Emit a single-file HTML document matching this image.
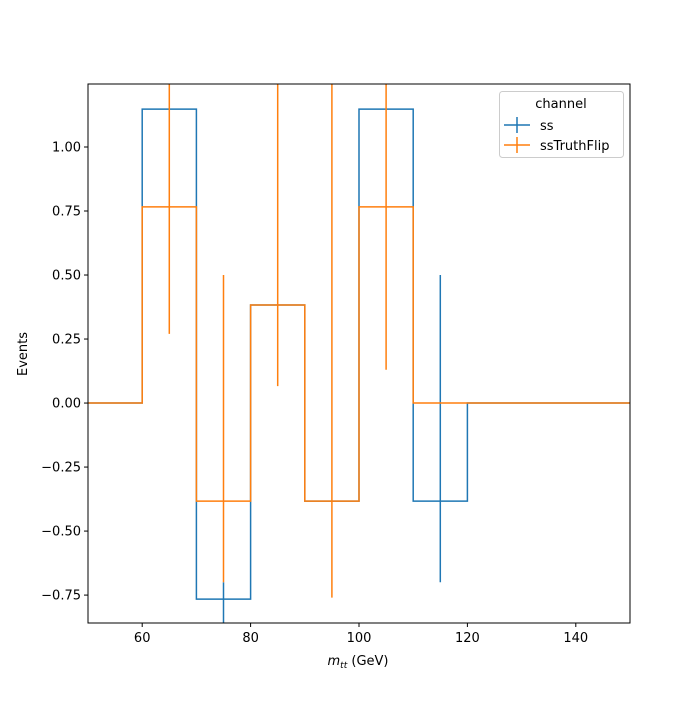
<!DOCTYPE html>
<html><head><meta charset="utf-8"><style>
body{margin:0;background:#fff;font-family:"Liberation Sans","DejaVu Sans",sans-serif}
text{font-family:"DejaVu Sans","Liberation Sans",sans-serif;font-size:13px;fill:#000}
</style></head><body>
<svg id="chart" width="700" height="700" xmlns="http://www.w3.org/2000/svg">
<defs><clipPath id="clip"><rect x="88" y="84" width="542" height="539"/></clipPath></defs>
<rect x="0" y="0" width="700" height="700" fill="#fff"/>
<g id="marks" clip-path="url(#clip)"></g>
<g id="axes"></g>
</svg>
<script>
const binEdges=[50,60,70,80,90,100,110,120,130,140,150];
const ssValues=[0,1.148,-0.766,0.383,-0.383,1.148,-0.383,0,0,0];
const flipValues=[0,0.766,-0.383,0.383,-0.383,0.766,0,0,0,0];
const ssErrCenters=[75,115];
const ssErrLow=[-1.0,-0.70];
const ssErrHigh=[-0.70,0.50];
const flipErrCenters=[65,75,85,95,105];
const flipErrLow=[0.27,-0.70,0.066,-0.76,0.13];
const flipErrHigh=[1.4,0.50,1.4,1.4,1.4];
const xTicks=[60,80,100,120,140];
const yTicks=[-0.75,-0.5,-0.25,0,0.25,0.5,0.75,1.0];
const yTickLabels=["−0.75","−0.50","−0.25","0.00","0.25","0.50","0.75","1.00"];
const X0=88,X1=630,Y0=84,Y1=623,xmin=50,xmax=150,ymin=-0.859,ymax=1.246;
const sx=v=>X0+(v-xmin)/(xmax-xmin)*(X1-X0);
const sy=v=>Y1-(v-ymin)/(ymax-ymin)*(Y1-Y0);
const NS="http://www.w3.org/2000/svg";
const marks=document.getElementById('marks'),axes=document.getElementById('axes');
function mk(tag,attrs,parent){const e=document.createElementNS(NS,tag);for(const k in attrs)e.setAttribute(k,attrs[k]);parent.appendChild(e);return e;}
function steps(vals,name,color){let d="";for(let i=0;i<vals.length;i++){d+=(i?"L":"M")+sx(binEdges[i])+","+sy(vals[i])+"L"+sx(binEdges[i+1])+","+sy(vals[i]);}
const p=mk('path',{d:d,fill:'none',stroke:color,'stroke-width':1.5},marks);

}
function errs(c,lo,hi,name,color){for(let i=0;i<c.length;i++){const l=mk('line',{x1:sx(c[i]),x2:sx(c[i]),y1:sy(lo[i]),y2:sy(hi[i]),stroke:color,'stroke-width':1.5},marks);

}}
steps(ssValues,'ss-step','#1f77b4');
errs(ssErrCenters,ssErrLow,ssErrHigh,'ss-error-bar','#1f77b4');
steps(flipValues,'sstruthflip-step','#ff7f0e');
errs(flipErrCenters,flipErrLow,flipErrHigh,'sstruthflip-error-bar','#ff7f0e');
const frame=mk('rect',{x:X0,y:Y0,width:X1-X0,height:Y1-Y0,fill:'none',stroke:'#000','stroke-width':1},axes);


xTicks.forEach(v=>{mk('line',{x1:sx(v),x2:sx(v),y1:Y1,y2:Y1+4,stroke:'#000'},axes);
const t=mk('text',{x:sx(v),y:Y1+19,'text-anchor':'middle'},axes);t.textContent=v;

});
yTicks.forEach((v,i)=>{mk('line',{x1:X0-4,x2:X0,y1:sy(v),y2:sy(v),stroke:'#000'},axes);
const t=mk('text',{x:X0-7,y:sy(v)+4.5,'text-anchor':'end'},axes);t.textContent=yTickLabels[i];

});
</script>
<svg style="position:absolute;left:0;top:0" width="700" height="700" xmlns="http://www.w3.org/2000/svg">
<text x="358" y="665" text-anchor="middle"><tspan font-style="italic">m</tspan><tspan font-style="italic" font-size="9" dy="3">tt</tspan><tspan dy="-3"> (GeV)</tspan></text>
<text x="27" y="354" text-anchor="middle" transform="rotate(-90 27 354)">Events</text>
<g>
<rect x="499.5" y="91.5" width="124" height="66" rx="3" fill="#fff" fill-opacity="0.8" stroke="#ccc"/>
<text x="561" y="108" text-anchor="middle">channel</text>
<g>
<line x1="504" x2="530" y1="125" y2="125" stroke="#1f77b4" stroke-width="1.5"/><line x1="517" x2="517" y1="117" y2="133" stroke="#1f77b4" stroke-width="1.5"/>
<text x="540" y="130">ss</text></g>
<g>
<line x1="504" x2="530" y1="145" y2="145" stroke="#ff7f0e" stroke-width="1.5"/><line x1="517" x2="517" y1="137" y2="153" stroke="#ff7f0e" stroke-width="1.5"/>
<text x="540" y="150">ssTruthFlip</text></g>
</g>
</svg>
</body></html>
